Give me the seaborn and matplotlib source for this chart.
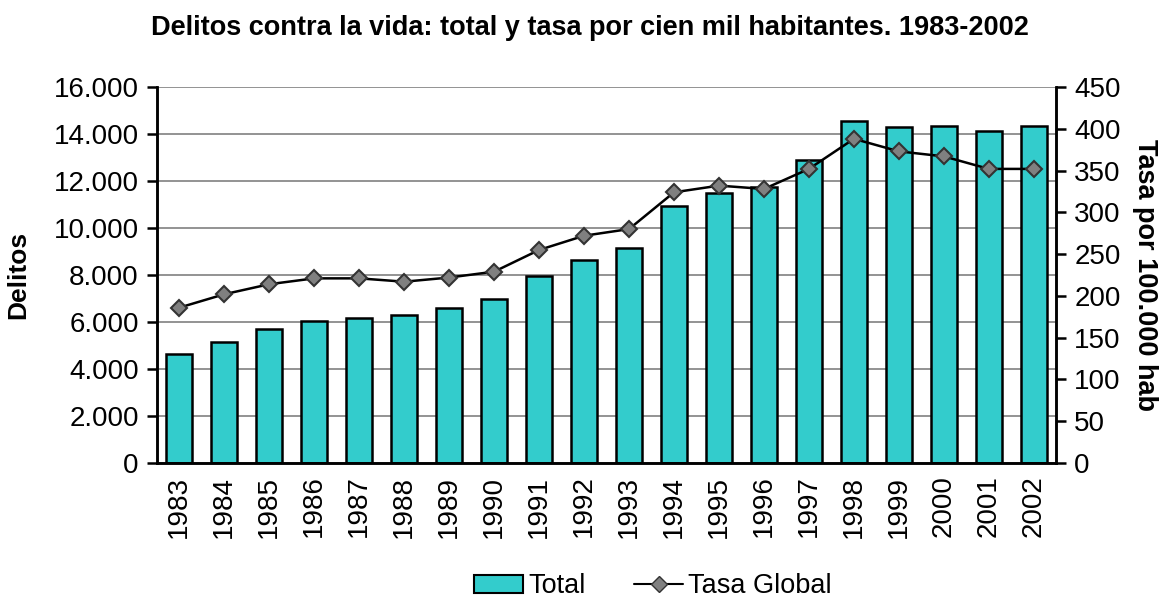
import matplotlib.pyplot as plt
import seaborn as sns
import pandas as pd
from matplotlib.patches import Patch
from matplotlib.lines import Line2D

# Data
years = [str(y) for y in range(1983, 2003)]
total = [4640, 5170, 5700, 6030, 6170, 6280, 6600, 6960, 7970, 8660,
         9150, 10940, 11470, 11730, 12890, 14550, 14290, 14340, 14110, 14340]
tasa = [186, 202, 214, 221, 221, 217, 222, 229, 255, 272,
        280, 324, 332, 328, 352, 388, 373, 367, 352, 352]

left_ticks = list(range(0, 16001, 2000))
right_ticks = list(range(0, 451, 50))

df = pd.DataFrame({"year": years, "total": total, "tasa": tasa})

sns.set_style("white")
plt.rcParams["font.family"] = ["Liberation Sans", "DejaVu Sans"]
plt.rcParams["text.color"] = "black"
plt.rcParams["xtick.color"] = "black"
plt.rcParams["ytick.color"] = "black"
plt.rcParams["axes.labelcolor"] = "black"

fig = plt.figure(figsize=(11.62, 6.01), dpi=100)
ax = fig.add_axes([0.135, 0.2296, 0.774, 0.6256])

sns.barplot(data=df, x="year", y="total", color="#33CCCC", width=0.58,
            edgecolor="black", linewidth=1.8, saturation=1, ax=ax, zorder=2)
ax.set_ylim(0, 16000)
ax.set_yticks(left_ticks)
ax.set_yticklabels([f"{v:,}".replace(",", ".") for v in left_ticks], fontsize=20)
ax.grid(axis="y", color="#808080", linewidth=1.2, zorder=0)
ax.set_axisbelow(True)
ax.set_xlabel("")
ax.set_ylabel("Delitos", fontsize=19, fontweight="bold", labelpad=17)

# x ticks: labels at centers, tick marks at the category boundaries
ax.set_xticks(range(len(years)))
ax.set_xticklabels(years, rotation=90, fontsize=20)
ax.set_xticks([i - 0.5 for i in range(len(years) + 1)], minor=True)
ax.tick_params(axis="x", which="major", length=0, pad=9)
ax.tick_params(axis="x", which="minor", length=7, width=1.8, color="black", direction="out")
ax.tick_params(axis="y", length=7, width=1.8, color="black", direction="out", pad=6)

ax2 = ax.twinx()
sns.pointplot(data=df, x="year", y="tasa", color="black", markers="D",
              linewidth=1.8, markersize=8.5, errorbar=None, ax=ax2)
for ln in ax2.lines:
    ln.set_markerfacecolor("#808080")
    ln.set_markeredgecolor("#333333")
    ln.set_markeredgewidth(1.5)
ax2.set_ylim(0, 450)
ax2.set_yticks(right_ticks)
ax2.set_yticklabels([str(v) for v in right_ticks], fontsize=20)
ax2.set_ylabel("Tasa por 100.000 hab", fontsize=19.5, fontweight="bold",
               rotation=270, labelpad=27)
ax2.tick_params(axis="y", length=7, width=1.8, color="black", direction="out", pad=6)
ax2.set_xlabel("")
ax.set_xlim(-0.5, len(years) - 0.5)

for a in (ax, ax2):
    for side in ("left", "right", "bottom"):
        a.spines[side].set_color("black")
        a.spines[side].set_linewidth(1.8)
    a.spines["top"].set_visible(False)

fig.suptitle("Delitos contra la vida: total y tasa por cien mil habitantes. 1983-2002",
             fontsize=19.5, fontweight="bold", x=0.508, y=0.975)

handles = [Patch(facecolor="#33CCCC", edgecolor="black", linewidth=1.5),
           Line2D([0], [0], color="black", linewidth=1.5, marker="D", markersize=8,
                  markerfacecolor="#808080", markeredgecolor="#333333")]
fig.legend(handles, ["Total", "Tasa Global"], loc="lower center", ncol=2,
           frameon=False, fontsize=19.5, bbox_to_anchor=(0.562, -0.038),
           columnspacing=1.8, handlelength=1.8, handletextpad=0.2)

fig.savefig("out.png", dpi=100)
